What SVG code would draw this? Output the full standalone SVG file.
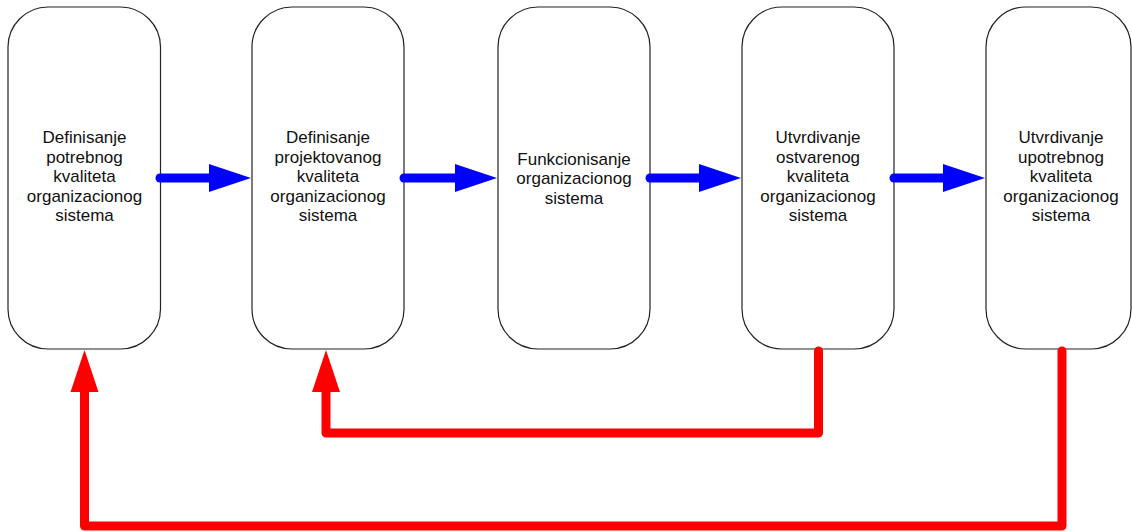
<svg xmlns="http://www.w3.org/2000/svg" width="1132" height="532" viewBox="0 0 1132 532">
<style>
.box{fill:#fff;stroke:#222;stroke-width:1.2}
.t{font-family:"Liberation Sans",Arial,sans-serif;font-size:17px;fill:#111;text-anchor:middle}
.bl{stroke:#0000ff;stroke-width:9;stroke-linecap:round;fill:none}
.bh{fill:#0000ff}
.rl{stroke:#ff0000;stroke-width:9;stroke-linecap:round;stroke-linejoin:round;fill:none}
.rh{fill:#ff0000}
</style>
<rect width="1132" height="532" fill="#fff"/>
<g id="n1"><rect class="box" x="8" y="7" width="152.5" height="342" rx="40" ry="40"/>
<text class="t"><tspan x="84.5" y="143">Definisanje</tspan><tspan x="84.5" y="162.5">potrebnog</tspan><tspan x="84.5" y="182">kvaliteta</tspan><tspan x="84.5" y="201.5">organizacionog</tspan><tspan x="84.5" y="221">sistema</tspan></text></g>
<g id="n2"><rect class="box" x="252" y="7" width="152" height="342" rx="40" ry="40"/>
<text class="t"><tspan x="328" y="143">Definisanje</tspan><tspan x="328" y="162.5">projektovanog</tspan><tspan x="328" y="182">kvaliteta</tspan><tspan x="328" y="201.5">organizacionog</tspan><tspan x="328" y="221">sistema</tspan></text></g>
<g id="n3"><rect class="box" x="498" y="7" width="152" height="342" rx="40" ry="40"/>
<text class="t"><tspan x="574" y="164.5">Funkcionisanje</tspan><tspan x="574" y="184">organizacionog</tspan><tspan x="574" y="203.5">sistema</tspan></text></g>
<g id="n4"><rect class="box" x="742" y="7" width="152" height="342" rx="40" ry="40"/>
<text class="t"><tspan x="818" y="143">Utvrdivanje</tspan><tspan x="818" y="162.5">ostvarenog</tspan><tspan x="818" y="182">kvaliteta</tspan><tspan x="818" y="201.5">organizacionog</tspan><tspan x="818" y="221">sistema</tspan></text></g>
<g id="n5"><rect class="box" x="986" y="7" width="145" height="342" rx="40" ry="40"/>
<text class="t"><tspan x="1061" y="143">Utvrdivanje</tspan><tspan x="1061" y="162.5">upotrebnog</tspan><tspan x="1061" y="182">kvaliteta</tspan><tspan x="1061" y="201.5">organizacionog</tspan><tspan x="1061" y="221">sistema</tspan></text></g>
<g id="connectors">
<line class="bl" x1="160" y1="178" x2="212" y2="178"/><polygon class="bh" points="209,164 251,178 209,192"/>
<line class="bl" x1="404" y1="178" x2="458" y2="178"/><polygon class="bh" points="455,164 497,178 455,192"/>
<line class="bl" x1="650" y1="178" x2="702" y2="178"/><polygon class="bh" points="699,164 741,178 699,192"/>
<line class="bl" x1="894" y1="178" x2="946" y2="178"/><polygon class="bh" points="943,164 985,178 943,192"/>
<polyline class="rl" points="818.5,351 818.5,433 326,433 326,388"/><polygon class="rh" points="312,392 326,350 340,392"/>
<polyline class="rl" points="1062,351 1062,526 84.5,526 84.5,388"/><polygon class="rh" points="70.5,392 84.5,350 98.5,392"/>
</g>
</svg>
